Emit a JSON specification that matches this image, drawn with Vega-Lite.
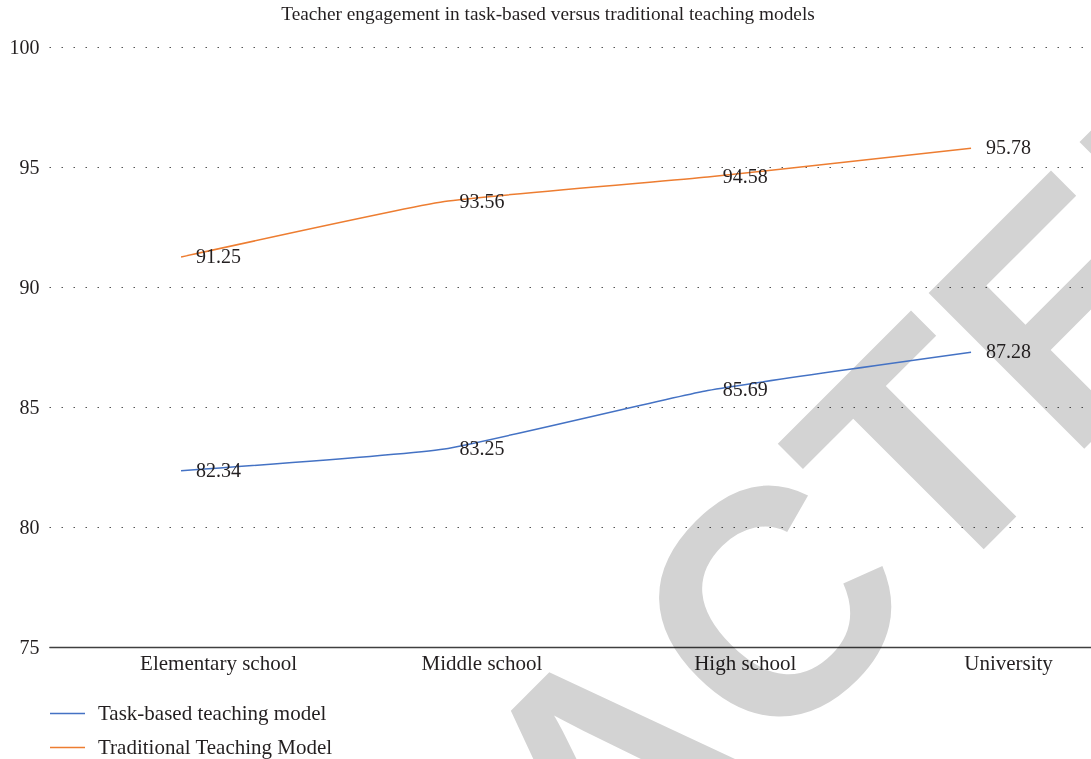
{
  "$schema": "https://vega.github.io/schema/vega-lite/v6.json",
  "width": 1042,
  "height": 600,
  "autosize": {"type": "none"},
  "padding": {"left": 49, "top": 47, "right": 0, "bottom": 112},
  "background": "white",
  "title": {
    "text": "Teacher engagement in task-based versus traditional teaching models",
    "font": "Liberation Serif",
    "fontSize": 19.3,
    "fontWeight": "normal",
    "color": "#231f20",
    "anchor": "middle",
    "frame": "group",
    "dx": -22,
    "offset": -56
  },
  "config": {
    "view": {"stroke": null},
    "font": "Liberation Serif"
  },
  "datasets": {
    "scores": [
      {"level": "Elementary school", "model": "Task-based teaching model", "value": 82.34},
      {"level": "Middle school", "model": "Task-based teaching model", "value": 83.25},
      {"level": "High school", "model": "Task-based teaching model", "value": 85.69},
      {"level": "University", "model": "Task-based teaching model", "value": 87.28},
      {"level": "Elementary school", "model": "Traditional Teaching Model", "value": 91.25},
      {"level": "Middle school", "model": "Traditional Teaching Model", "value": 93.56},
      {"level": "High school", "model": "Traditional Teaching Model", "value": 94.58},
      {"level": "University", "model": "Traditional Teaching Model", "value": 95.78}
    ],
    "stamp": [
      {"label": "RETRACTED"}
    ]
  },
  "layer": [
    {
      "data": {"name": "stamp"},
      "mark": {
        "type": "text",
        "font": "Liberation Sans",
        "fontWeight": "bold",
        "fontSize": 320,
        "angle": 315,
        "align": "center",
        "baseline": "alphabetic",
        "color": "#d3d3d3",
        "blend": "multiply",
        "dx": -45,
        "dy": 14
      },
      "encoding": {
        "x": {"datum": "High school", "type": "nominal"},
        "y": {"datum": 68.4, "type": "quantitative", "scale": {"domain": [75, 100], "zero": false, "nice": false}},
        "text": {"field": "label", "type": "nominal"}
      }
    },
    {
      "data": {"name": "scores"},
      "mark": {"type": "line", "interpolate": "cardinal", "tension": 0.6, "strokeWidth": 1.5},
      "encoding": {
        "x": {
          "field": "level",
          "type": "nominal",
          "sort": ["Elementary school", "Middle school", "High school", "University"],
          "scale": {"padding": 0.4785, "align": 0.524},
          "axis": {
            "title": null,
            "labelAngle": 0,
            "labelAlign": "center",
            "labelFont": "Liberation Serif",
            "labelFontSize": 21,
            "labelColor": "#231f20",
            "labelPadding": 16,
            "labelOffset": 37,
            "ticks": false,
            "grid": false,
            "domain": true,
            "domainColor": "#404040",
            "domainWidth": 1.5
          }
        },
        "y": {
          "field": "value",
          "type": "quantitative",
          "scale": {"domain": [75, 100], "zero": false, "nice": false},
          "axis": {
            "title": null,
            "values": [75, 80, 85, 90, 95, 100],
            "labelFont": "Liberation Serif",
            "labelFontSize": 20,
            "labelColor": "#231f20",
            "labelPadding": 10,
            "ticks": false,
            "domain": false,
            "grid": true,
            "gridDash": [1.5, 10.5],
            "gridColor": "#555555",
            "gridWidth": 1.2
          }
        },
        "color": {
          "field": "model",
          "type": "nominal",
          "scale": {
            "domain": ["Task-based teaching model", "Traditional Teaching Model"],
            "range": ["#4472C4", "#ED7D31"]
          },
          "legend": {
            "title": null,
            "orient": "bottom",
            "direction": "vertical",
            "symbolType": "stroke",
            "symbolStrokeWidth": 1.5,
            "symbolSize": 1225,
            "labelFont": "Liberation Serif",
            "labelFontSize": 21,
            "labelColor": "#231f20",
            "labelOffset": 12,
            "labelLimit": 0,
            "rowPadding": 5,
            "offset": 22,
            "padding": 0
          }
        }
      }
    },
    {
      "data": {"name": "scores"},
      "mark": {
        "type": "text",
        "align": "left",
        "baseline": "middle",
        "dx": 15,
        "font": "Liberation Serif",
        "fontSize": 20,
        "color": "#231f20"
      },
      "encoding": {
        "x": {"field": "level", "type": "nominal", "sort": ["Elementary school", "Middle school", "High school", "University"]},
        "y": {"field": "value", "type": "quantitative", "scale": {"domain": [75, 100], "zero": false, "nice": false}},
        "text": {"field": "value", "type": "quantitative", "format": ".2f"}
      }
    }
  ]
}
